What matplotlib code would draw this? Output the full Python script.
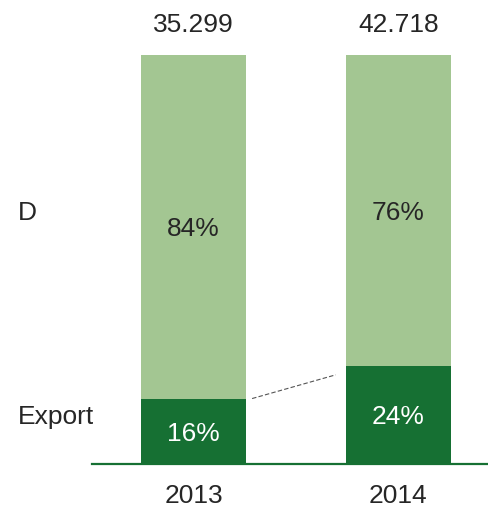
import numpy as np
import matplotlib
matplotlib.use("Agg")
import matplotlib.pyplot as plt

plt.rcParams['font.family'] = ['Liberation Sans', 'DejaVu Sans']

# data
years = ['2013', '2014']
totals = ['35.299', '42.718']
export_pct = [16, 24]
domestic_pct = [84, 76]
row_labels = ['D', 'Export']

light = '#a3c692'
dark = '#167033'
txt = '#262626'

fig = plt.figure(figsize=(4.88, 5.08), dpi=100)
ax = fig.add_axes([0, 0, 1, 1])
ax.set_xlim(-0.944, 1.437)
ax.set_ylim(-10.76, 113.45)
ax.axis('off')

x = np.arange(len(years))
w = 0.512
ax.bar(x, export_pct, width=w, color=dark, zorder=2)
ax.bar(x, domestic_pct, width=w, bottom=export_pct, color=light, zorder=2)

# baseline
ax.axhline(0, xmin=0.1885, xmax=1, color=dark, lw=1.6, zorder=3)

fs = 19
dy = -0.6  # nudge text slightly down
for i in range(len(years)):
    ax.text(x[i], export_pct[i] / 2 + dy, f'{export_pct[i]}%', ha='center', va='center',
            color='white', fontsize=fs)
    ax.text(x[i], export_pct[i] + domestic_pct[i] / 2 + dy, f'{domestic_pct[i]}%',
            ha='center', va='center', color=txt, fontsize=fs)
    ax.text(x[i], 108 + dy, totals[i], ha='center', va='center', color=txt, fontsize=fs)
    ax.text(x[i], -7.3 + dy, years[i], ha='center', va='center', color=txt, fontsize=fs)

# row labels, aligned with the last bar's segments
ax.text(-0.856, export_pct[-1] + domestic_pct[-1] / 2 + dy, row_labels[0],
        ha='left', va='center', color=txt, fontsize=fs)
ax.text(-0.856, export_pct[-1] / 2 + dy, row_labels[1],
        ha='left', va='center', color=txt, fontsize=fs)

# connector between export segments
x0 = x[0] + w / 2 + 0.03
x1 = x[1] - w / 2 - 0.05
ax.plot([x0, x1], [export_pct[0], export_pct[1] - 2.2], ls=(0, (4, 2)),
        color='#555555', lw=0.8, zorder=1)

fig.savefig('out.png', dpi=100)
